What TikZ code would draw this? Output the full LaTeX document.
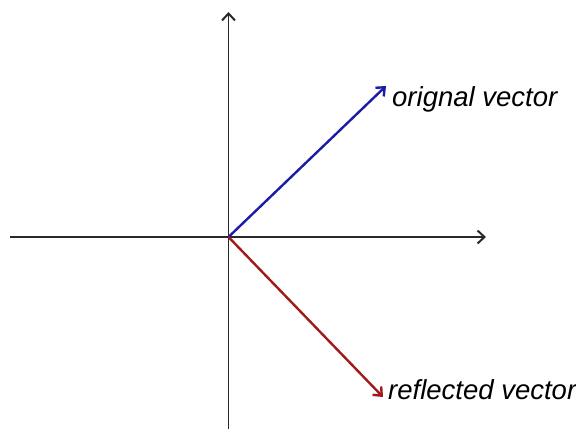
\documentclass[tikz,border=0pt]{standalone}
\usepackage{fontspec}
\setmainfont{Liberation Sans}
\usetikzlibrary{arrows.meta}
\definecolor{axisgrey}{HTML}{2A2A2A}
\definecolor{vblue}{HTML}{1C1CA6}
\definecolor{vred}{HTML}{A01A1A}
\begin{document}
\begin{tikzpicture}[x=1pt,y=-1pt,
  axis/.style={draw=axisgrey,line width=1.5pt,-{Straight Barb[length=7pt,width=13pt,line width=2pt]}},
  vec/.style={line width=2.4pt,-{Straight Barb[length=7pt,width=12pt,line width=2.4pt]}},
  lbl/.style={font=\fontsize{27.5}{32}\selectfont\itshape,anchor=base west,inner sep=0pt}]
\useasboundingbox (0,0) rectangle (576,429);
\coordinate (O) at (228.5,237);
\coordinate (xl) at (10,237);
\coordinate (xr) at (486,237);
\coordinate (yt) at (228.5,12);
\coordinate (yb) at (228.5,429);
\coordinate (b) at (386,86);
\coordinate (r) at (383,397);
\draw[axis] (xl) -- (xr);
\draw[axis] (yb) -- (yt);
\draw[vec,vblue] (O) -- (b);
\draw[vec,vred] (O) -- (r);
\node[lbl] (lb) at (392,106) {orignal vector};
\node[lbl] (lr) at (388,399) {reflected vector};
\end{tikzpicture}
\end{document}
